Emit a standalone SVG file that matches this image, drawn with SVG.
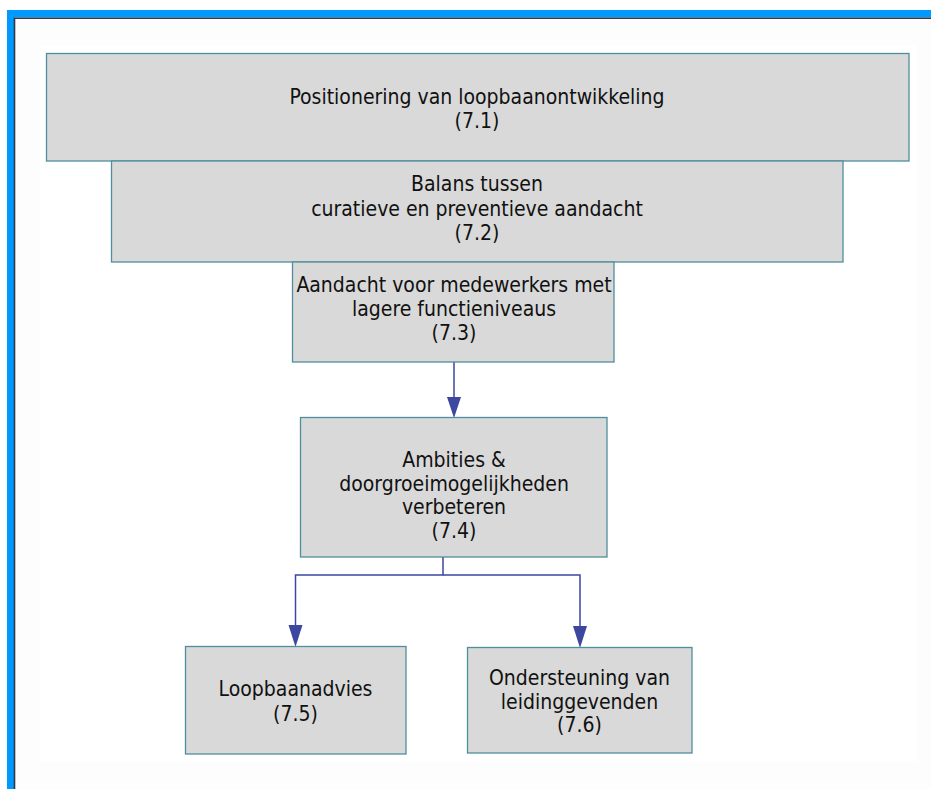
<svg xmlns="http://www.w3.org/2000/svg" width="931" height="789" viewBox="0 0 931 789">
<style>
.box{fill:#d9d9d9;stroke:#4f8e9c;stroke-width:1.3}
.t{font-family:"DejaVu Sans Condensed","DejaVu Sans",Verdana,sans-serif;font-stretch:condensed;font-size:21px;fill:#111;text-anchor:middle}
.c{fill:none;stroke:#3d47a0;stroke-width:1.5}
.ah{fill:#3d47a0}
</style>
<rect x="0" y="0" width="931" height="789" fill="#ffffff"/>
<rect x="15" y="19" width="916" height="770" fill="#fdfdfd"/>
<rect x="40" y="45" width="877" height="717" fill="#ffffff"/>
<rect x="7" y="10" width="924" height="7.5" fill="#0099ff"/>
<rect x="7" y="10" width="7.5" height="779" fill="#0099ff"/>
<path d="M14.5,789 V18.2 H931" fill="none" stroke="#2d3a44" stroke-width="1.6"/>
<g id="connectors">
<path class="c" d="M454,362 V400"/>
<path class="ah" d="M447,397 L461,397 L454,418 Z"/>
<path class="c" d="M443,557 V575 H295.5 V630"/>
<path class="c" d="M443,575 H580 V630"/>
<path class="ah" d="M288.5,625 L302.5,625 L295.5,647 Z"/>
<path class="ah" d="M573,626 L587,626 L580,648 Z"/>
</g>
<g id="n71">
<rect class="box" x="46.5" y="53.5" width="862.5" height="107.5"/>
<text class="t" x="477" y="104">Positionering van loopbaanontwikkeling</text>
<text class="t" x="477" y="128">(7.1)</text>
</g>
<g id="n72">
<rect class="box" x="111.5" y="161" width="731.5" height="101"/>
<text class="t" x="477" y="191">Balans tussen</text>
<text class="t" x="477" y="215.5">curatieve en preventieve aandacht</text>
<text class="t" x="477" y="240">(7.2)</text>
</g>
<g id="n73">
<rect class="box" x="292.5" y="262" width="321.5" height="100"/>
<text class="t" x="454" y="292">Aandacht voor medewerkers met</text>
<text class="t" x="454" y="316">lagere functieniveaus</text>
<text class="t" x="454" y="340">(7.3)</text>
</g>
<g id="n74">
<rect class="box" x="300.5" y="417.5" width="306.5" height="139.5"/>
<text class="t" x="454" y="467">Ambities &amp;</text>
<text class="t" x="454" y="490.5">doorgroeimogelijkheden</text>
<text class="t" x="454" y="514">verbeteren</text>
<text class="t" x="454" y="538">(7.4)</text>
</g>
<g id="n75">
<rect class="box" x="185.5" y="646.5" width="220.5" height="107.5"/>
<text class="t" x="295.5" y="696">Loopbaanadvies</text>
<text class="t" x="295.5" y="720.5">(7.5)</text>
</g>
<g id="n76">
<rect class="box" x="467.5" y="647.5" width="224.5" height="105.5"/>
<text class="t" x="579.5" y="685">Ondersteuning van</text>
<text class="t" x="579.5" y="708.5">leidinggevenden</text>
<text class="t" x="579.5" y="732">(7.6)</text>
</g>
</svg>
